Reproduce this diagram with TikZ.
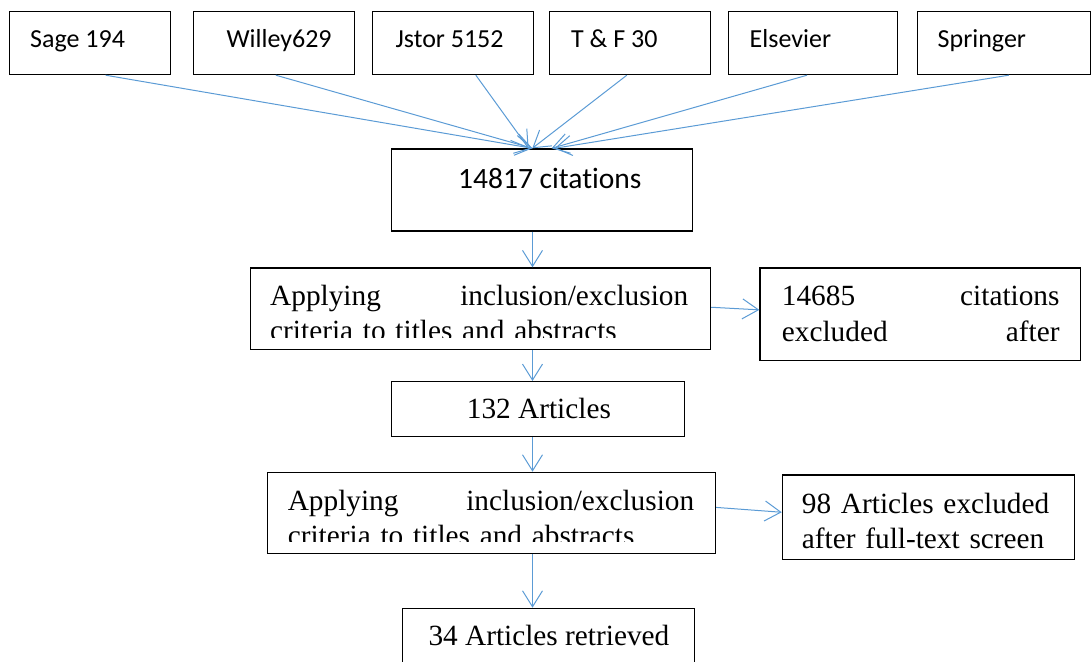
\documentclass[tikz,border=0pt]{standalone}
\usepackage{fontspec}
\setmainfont{Liberation Serif}
\newfontfamily\calibrifont[Ligatures=NoCommon]{Carlito}
\usetikzlibrary{arrows.meta}
\definecolor{lblue}{HTML}{5B9BD5}
\tikzset{
  box/.style={draw=black, line width=1.2pt, inner sep=0pt, anchor=north west},
  toptext/.style={anchor=base west, inner sep=0pt, font=\calibrifont\fontsize{26}{31}\selectfont},
  sertext/.style={anchor=base west, inner sep=0pt, font=\fontsize{29.3}{35}\selectfont},
  arr/.style={draw=lblue, line width=1pt, -{Straight Barb[length=16pt,width=20pt]}}
}
\begin{document}
\begin{tikzpicture}[x=1pt,y=-1pt]
\useasboundingbox (0,0) rectangle (1091,661);
\clip (0,0) rectangle (1091,661);
% top boxes
\node[box, minimum width=160.5, minimum height=63] (sage) at (9,11) {};
\node[box, minimum width=160.5, minimum height=63] (willey) at (193,11) {};
\node[box, minimum width=160.5, minimum height=63] (jstor) at (372,11) {};
\node[box, minimum width=160.5, minimum height=63] (tf) at (549,11) {};
\node[box, minimum width=169.5, minimum height=63] (els) at (727.7,11) {};
\node[box, minimum width=173.5, minimum height=63] (spr) at (916.5,11) {};
\node[toptext] (sageT) at (30,47.7) {Sage 194};
\node[toptext] (willeyT) at (226.3,47.7) {Willey629};
\node[toptext] (jstorT) at (395.4,47.7) {Jstor 5152};
\node[toptext] (tfT) at (571,47.7) {T \& F 30};
\node[toptext] (elsT) at (749.5,47.7) {Elsevier};
\node[toptext] (sprT) at (937.5,47.7) {Springer};
% main column
\node[box, minimum width=301, minimum height=82] (cit) at (391,148.3) {};
\node[anchor=base west, inner sep=0pt, font=\calibrifont\fontsize{29.5}{35}\selectfont] (citT) at (458,188.3) {14817 citations};
\node[box, minimum width=460.5, minimum height=81.7] (b2) at (249.5,267.3) {};
\begin{scope}
\clip (249.5,267.3) rectangle (710,337.3);
\node[sertext, text width=418] (b2T) at (270,305) {Applying\hfill inclusion/exclusion\\criteria to titles and abstracts};
\end{scope}
\node[box, minimum width=320.7, minimum height=92.7] (ex1) at (759.3,267.3) {};
\node[sertext, text width=277.6, font=\fontsize{29.3}{36.7}\selectfont] (ex1T) at (781.7,305) {14685\hfill citations\\excluded\hfill after};
\node[box, minimum width=293, minimum height=55] (b3) at (391,381) {};
\node[sertext] (b3T) at (466.7,418.3) {132 Articles};
\node[box, minimum width=448, minimum height=81] (b4) at (267,471.7) {};
\begin{scope}
\clip (267,471.7) rectangle (715,541.7);
\node[sertext, text width=406.4] (b4T) at (287.6,510) {Applying\hfill inclusion/exclusion\\criteria to titles and abstracts};
\end{scope}
\node[box, minimum width=292.3, minimum height=84.7] (ex2) at (781.7,474.3) {};
\node[sertext, text width=265, align=left] (ex2T) at (801.7,513.3) {98 Articles excluded\\after full-text screen};
\node[box, minimum width=292.3, minimum height=70] (b6) at (401.7,607.7) {};
\node[sertext] (b6T) at (428.3,645) {34 Articles retrieved};
% connectors
\draw[arr] ([xshift=15.75]sage.south) -- ([xshift=-9.8]cit.north);
\draw[arr] ([xshift=2]willey.south) -- ([xshift=-9.8]cit.north);
\draw[arr] ([xshift=23]jstor.south) -- ([xshift=-13.5]cit.north);
\draw[arr] ([xshift=-3]tf.south) -- ([xshift=-9.8]cit.north);
\draw[arr] ([xshift=-6]els.south) -- ([xshift=9.5]cit.north);
\draw[arr] ([xshift=5]spr.south) -- ([xshift=12.5]cit.north);
\coordinate (ax) at (532.5,0);
\draw[arr] (cit.south -| ax) -- (b2.north -| ax);
\draw[arr] (b2.south -| ax) -- (b3.north -| ax);
\draw[arr] (b3.south -| ax) -- (b4.north -| ax);
\draw[arr] (b4.south -| ax) -- (b6.north -| ax);
\draw[arr] ([yshift=1.5]b2.east) -- ([yshift=4.4]ex1.west);
\draw[arr] ([yshift=5.4]b4.east) -- ([yshift=5]ex2.west);
\end{tikzpicture}
\end{document}
